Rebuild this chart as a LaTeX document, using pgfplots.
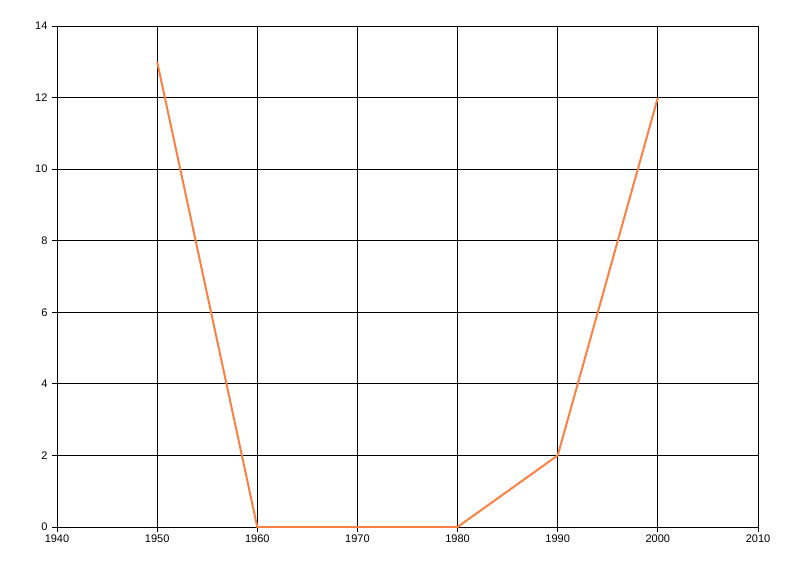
\documentclass[border=0pt]{standalone}
\usepackage{pgfplots}
\pgfplotsset{compat=1.18}
\usepackage{fontspec}
\setmainfont{Liberation Sans}
\definecolor{lineorange}{RGB}{252,128,66}

\begin{document}
\begin{tikzpicture}
\path[use as bounding box] (0,0) rectangle (800pt,576pt);
\begin{axis}[
    at={(57pt,49pt)}, anchor=south west,
    scale only axis,
    width=701pt, height=501pt,
    xmin=1940, xmax=2010,
    ymin=0, ymax=14,
    xtick={1940,1950,...,2010},
    xticklabels={1940,1950,1960,1970,1980,1990,2000,2010},
    ytick={0,2,...,14},
    yticklabels={0,2,4,6,8,10,12,14},
    grid=major,
    grid style={black, line width=0.9pt},
    axis line style={black, line width=0.9pt},
    tick style={black, line width=0.9pt},
    tick align=outside,
    major tick length=5pt,
    xtick pos=bottom, ytick pos=left,
    tick label style={font=\fontsize{11}{13}\selectfont},
    xticklabel style={yshift=1pt},
    yticklabel style={xshift=-1pt},
]
\addplot[color=lineorange, line width=2pt] coordinates {
    (1950,13) (1960,0) (1970,0) (1980,0) (1990,2) (2000,12)
};
\end{axis}
\end{tikzpicture}
\end{document}
